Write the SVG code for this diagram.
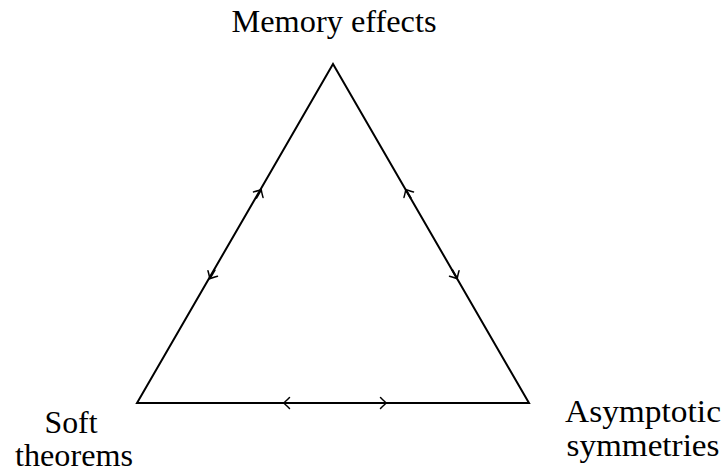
<svg xmlns="http://www.w3.org/2000/svg" width="724" height="473" viewBox="0 0 724 473">
<defs>
<marker id="tip" viewBox="-7 -7 9 14" markerWidth="9" markerHeight="14" markerUnits="userSpaceOnUse" refX="0" refY="0" orient="auto">
<path d="M -5.5 -5.5 Q -1.2 -1.2 0.5 0 Q -1.2 1.2 -5.5 5.5" fill="none" stroke="#000" stroke-width="1.5" stroke-linecap="round"/>
</marker>
</defs>
<style>
.edge{stroke:#000;stroke-width:2;fill:none}
.seg{stroke:#000;stroke-width:2;fill:none;marker-end:url(#tip)}
text{font-family:"Liberation Serif","DejaVu Serif",serif;font-size:31px;fill:#000;text-anchor:middle}
</style>
<g id="connectors">
<path class="edge" d="M 137 403 L 333 64 L 529 403 Z" stroke-linejoin="miter"/>
<line class="seg" x1="256" y1="198.6" x2="261" y2="189.9"/>
<line class="seg" x1="215" y1="269.6" x2="210" y2="278.3"/>
<line class="seg" x1="411" y1="198.6" x2="406" y2="189.9"/>
<line class="seg" x1="452" y1="269.6" x2="457" y2="278.3"/>
<line class="seg" x1="294" y1="403" x2="284" y2="403"/>
<line class="seg" x1="376" y1="403" x2="386" y2="403"/>
</g>
<g id="memory"><text x="334" y="32" textLength="205" lengthAdjust="spacingAndGlyphs">Memory effects</text></g>
<g id="soft"><text x="71" y="433" textLength="53" lengthAdjust="spacingAndGlyphs">Soft</text><text x="74" y="466" font-size="29" textLength="118" lengthAdjust="spacingAndGlyphs">theorems</text></g>
<g id="asym"><text x="643" y="422" textLength="156" lengthAdjust="spacingAndGlyphs">Asymptotic</text><text x="643" y="456" textLength="153" lengthAdjust="spacingAndGlyphs">symmetries</text></g>
</svg>
